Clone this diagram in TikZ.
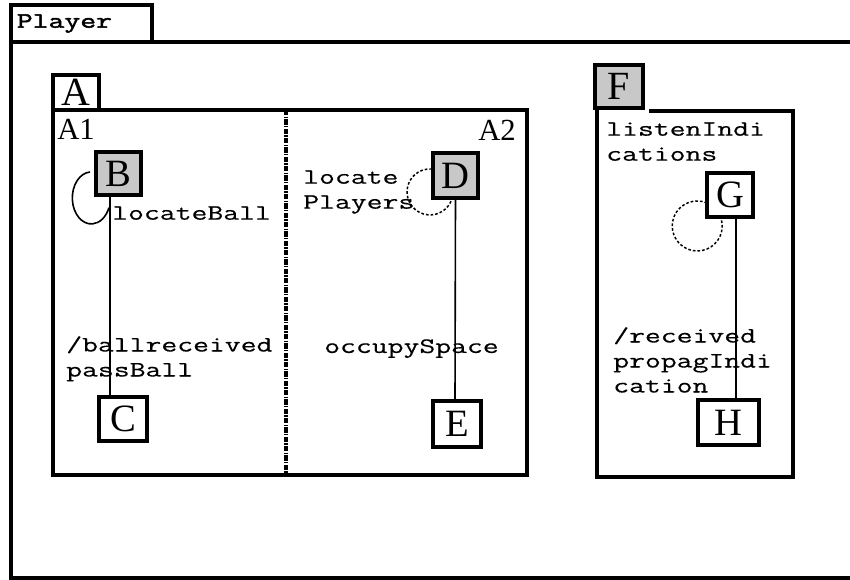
\documentclass[tikz,border=0pt]{standalone}
\usepackage{fontspec}
\setmainfont{Liberation Serif}
\setmonofont[FakeStretch=1.4,FakeBold=0.4]{Latin Modern Mono}
\newfontfamily\playerfont[FakeStretch=1.4,FakeBold=2.2]{Latin Modern Mono}
\usetikzlibrary{calc}

\definecolor{stategray}{RGB}{200,200,200}

\begin{document}
\begin{tikzpicture}[
    x=0.75pt, y=0.75pt,
    wall/.style={draw, line width=2.6pt, inner sep=0pt, outer sep=0pt},
    state/.style={wall, fill=white, font=\fontsize{29}{29}\selectfont},
    tabbox/.style={wall, anchor=south west, font=\fontsize{30}{30}\selectfont},
    link/.style={line width=1.2pt},
    selfloop/.style={line width=1.1pt, dash pattern=on 2pt off 1.5pt},
    divider/.style={line width=2.6pt, dash pattern=on 4pt off 1pt on 1pt off 1pt},
    code/.style={inner sep=0pt, align=left, anchor=north west,
        font=\ttfamily\fontsize{16.5}{18.75}\selectfont},
    regionlabel/.style={inner sep=0pt, font=\fontsize{23}{23}\selectfont}
]
    \useasboundingbox (0,0) rectangle (850,580);

    \node[wall, anchor=south west, minimum width=105.75pt, minimum height=27.75pt,
        text width=97pt, align=left, inner sep=4pt,
        font=\playerfont\fontsize{16.5}{18}\selectfont] (player) at (11,538) {Player};
    \draw[line width=2.6pt] (player.south west) rectangle (852,2);

    \node[tabbox, minimum width=34.5pt, minimum height=26.25pt] (tabA) at (53,470) {A};
    \node[wall, anchor=north west, minimum width=355.5pt, minimum height=273.75pt] (regA)
        at (tabA.south west) {};
    \draw[divider] ($(regA.north west)+(233,0)$) -- ($(regA.south west)+(233,0)$);
    \node[regionlabel, anchor=base west] (a1) at (57,440) {A1};
    \node[regionlabel, anchor=base east] (a2) at (516,439) {A2};

    \node[state, fill=stategray, minimum width=33.75pt, minimum height=32.25pt] (B) at (118.5,406.5) {B};
    \node[state, minimum width=36pt, minimum height=33pt] (C) at (123,161) {C};
    \node[state, fill=stategray, minimum width=33.75pt, minimum height=33.75pt] (D) at (455.5,404.5) {D};
    \node[state, minimum width=36pt, minimum height=34.5pt] (E) at (457,156) {E};

    \draw[link] ($(B.south)+(-8.5,0)$) -- ($(C.north)+(-13,0)$);
    \draw[link] (D.south) -- ($(E.north)+(-2,0)$);
    \draw[link] ($(B.west)+(-6,1.5)$) arc[start angle=94, end angle=338, x radius=19, y radius=26];
    \draw[selfloop] ($(D.west)+(-1,6.5)$) arc[start angle=85, end angle=341, radius=23];

    \node[code] (locball) at (112,374) {locateBall};
    \node[code] (passball) at (66,244) {/ballreceived\\passBall};
    \node[code] (locplayers) at (303,410) {locate\\Players};
    \node[code] (occupy) at (324,241) {occupySpace};

    \node[tabbox, fill=stategray, minimum width=36pt, minimum height=32.25pt] (tabF) at (595,472) {F};
    \draw[line width=2.6pt] ($(tabF.south east)+(6,-3)$) -| (793,103) -| ($(tabF.south west)+(2,0)$);

    \node[state, minimum width=34.5pt, minimum height=33pt] (G) at (730,385) {G};
    \node[state, minimum width=45.75pt, minimum height=33.75pt] (H) at (728.5,157.5) {H};

    \draw[link] ($(G.south)+(6,0)$) -- ($(H.north)+(7.5,0)$);
    \draw[selfloop] ($(G.west)+(0,-8)$) arc[start angle=67, end angle=375, radius=25];

    \node[code] (listen) at (606,458) {listenIndi\\cations};
    \node[code] (received) at (613,253) {/received\\propagIndi\\cation};
\end{tikzpicture}
\end{document}
